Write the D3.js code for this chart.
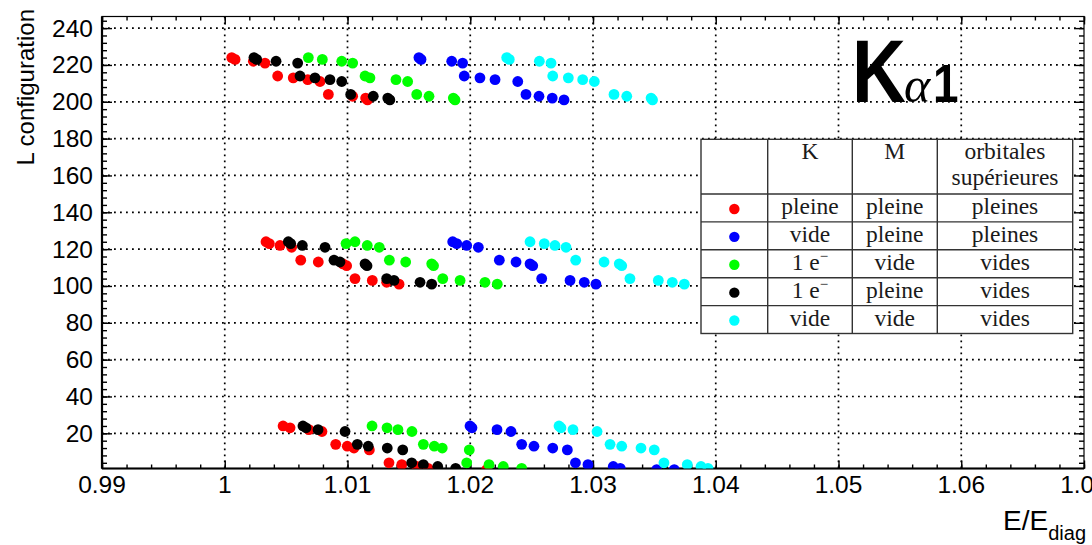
<!DOCTYPE html>
<html><head><meta charset="utf-8">
<script src="https://cdn.jsdelivr.net/npm/d3@7"></script>
<style>body{margin:0;background:#fff} svg{display:block}</style>
</head><body><svg id="c" width="1092" height="545"></svg>
<script>
// L configuration of every point (same order for all series)
const yLevels = [224,223,222,221,214,213,212,211,204,203,202,201,
                 124,123,122,121,114,113,112,111,104,103,102,101,
                 24,23,22,21,14,13,12,11,4,3,2,1];
const redX = [1.00057,1.00084,1.00233,1.00328,1.00431,1.00558,1.00676,1.00776,1.00844,1.01042,1.01148,1.01163,
              1.00336,1.00363,1.00450,1.00545,1.00619,1.00762,1.00963,1.00993,1.01061,1.01202,1.01319,1.01420,
              1.00475,1.00532,1.00686,1.00792,1.00904,1.00998,1.01053,1.01178,1.01338,1.01442,1.01564,1.01656];
const blackX = [1.00238,1.00260,1.00418,1.00594,1.00613,1.00735,1.00857,1.00953,1.01026,1.01210,1.01328,1.01345,
              1.00518,1.00537,1.00632,1.00817,1.00890,1.00939,1.01143,1.01159,1.01319,1.01379,1.01591,1.01686,
              1.00637,1.00662,1.00760,1.00980,1.01080,1.01169,1.01324,1.01450,1.01523,1.01618,1.01735,1.01881];
const greenX = [1.00681,1.00795,1.00953,1.01042,1.01143,1.01183,1.01395,1.01490,1.01564,1.01664,1.01862,1.01876,
              1.01061,1.00988,1.01161,1.01259,1.01341,1.01474,1.01686,1.01701,1.01776,1.01917,1.02120,1.02220,
              1.01200,1.01322,1.01411,1.01525,1.01618,1.01707,1.01772,1.01992,1.01971,1.02153,1.02269,1.02419];
const blueX = [1.01582,1.01599,1.01849,1.01938,1.01951,1.02079,1.02202,1.02387,1.02454,1.02560,1.02668,1.02764,
              1.01857,1.01890,1.01971,1.02066,1.02237,1.02373,1.02487,1.02509,1.02582,1.02813,1.02929,1.03024,
              1.01998,1.02014,1.02218,1.02332,1.02419,1.02519,1.02672,1.02791,1.02857,1.02959,1.03165,1.03222];
const cyanX = [1.02297,1.02318,1.02563,1.02658,1.02672,1.02799,1.02916,1.03011,1.03171,1.03275,1.03473,1.03485,
              1.02487,1.02603,1.02690,1.02780,1.02859,1.03090,1.03214,1.03234,1.03301,1.03532,1.03646,1.03744,
              1.02723,1.02739,1.02837,1.03033,1.03139,1.03234,1.03391,1.03499,1.03578,1.03768,1.03880,1.03937];
// points sitting on the lower frame edge (mostly hidden)
const edgeRedX = [1.02134], edgeBlueX = [1.03519,1.03662], edgeY = 0.3;

const xTicks = [0.99,1,1.01,1.02,1.03,1.04,1.05,1.06,1.07];
const xTickLabels = ["0.99","1","1.01","1.02","1.03","1.04","1.05","1.06","1.07"];
const yTicks = [20,40,60,80,100,120,140,160,180,200,220,240];

const legendHeader = [["", "K", "M", "orbitales|supérieures"]];
const legendRows = [["pleine","pleine","pleines"],["vide","pleine","pleines"],["1 e^","vide","vides"],["1 e^","pleine","vides"],["vide","vide","vides"]];
const seriesColors = ["#ff0000","#0000ff","#00ff00","#000000","#00ffff"];

const svg = d3.select("#c");
const L = 102, R = 1084, T = 16.5, B = 468.5;
const x = d3.scaleLinear().domain([0.99,1.07]).range([L,R]);
const y = d3.scaleLinear().domain([0.9,246.3]).range([B,T]);

svg.append("defs").append("clipPath").attr("id","fr").append("rect")
  .attr("x",L).attr("y",T).attr("width",R-L).attr("height",B-T);

// grid
const grid = svg.append("g").attr("stroke","#000").attr("stroke-width",1.7).attr("stroke-dasharray","1.8,4.2");
xTicks.slice(1,-1).forEach(v=>grid.append("line").attr("x1",x(v)).attr("x2",x(v)).attr("y1",T).attr("y2",B));
yTicks.forEach(v=>grid.append("line").attr("x1",L).attr("x2",R).attr("y1",y(v)).attr("y2",y(v)));

// axes
const minorX = d3.range(0.99,1.0701,0.002);
const minorY = d3.range(4,246,4);
function styleAxis(g){ g.select(".domain").remove(); g.selectAll("line").attr("stroke","#000").attr("stroke-width",1.4); }
svg.append("g").attr("transform",`translate(0,${B})`).call(d3.axisBottom(x).tickValues(minorX).tickSize(-4).tickFormat("")).call(styleAxis);
svg.append("g").attr("transform",`translate(0,${B})`).call(d3.axisBottom(x).tickValues(xTicks).tickSize(-8).tickFormat("")).call(styleAxis);
svg.append("g").attr("transform",`translate(0,${T})`).call(d3.axisTop(x).tickValues(minorX).tickSize(-4).tickFormat("")).call(styleAxis);
svg.append("g").attr("transform",`translate(0,${T})`).call(d3.axisTop(x).tickValues(xTicks).tickSize(-8).tickFormat("")).call(styleAxis);
svg.append("g").attr("transform",`translate(${L},0)`).call(d3.axisLeft(y).tickValues(minorY).tickSize(-5).tickFormat("")).call(styleAxis);
svg.append("g").attr("transform",`translate(${L},0)`).call(d3.axisLeft(y).tickValues(yTicks).tickSize(-10).tickFormat("")).call(styleAxis);
svg.append("g").attr("transform",`translate(${R},0)`).call(d3.axisRight(y).tickValues(minorY).tickSize(-5).tickFormat("")).call(styleAxis);
svg.append("g").attr("transform",`translate(${R},0)`).call(d3.axisRight(y).tickValues(yTicks).tickSize(-10).tickFormat("")).call(styleAxis);

// frame
svg.append("rect").attr("x",L).attr("y",T).attr("width",R-L).attr("height",B-T).attr("fill","none").attr("stroke","#000").attr("stroke-width",1.2);
svg.append("line").attr("x1",L).attr("x2",R).attr("y1",B).attr("y2",B).attr("stroke","#000").attr("stroke-width",2.2);
svg.append("line").attr("x1",L).attr("x2",L).attr("y1",T).attr("y2",B).attr("stroke","#000").attr("stroke-width",2.2);

// tick labels
const font = "'Liberation Sans', Arial, sans-serif";
svg.append("g").selectAll("text").data(xTicks).join("text")
  .attr("x",d=>x(d)).attr("y",492.5).attr("text-anchor","middle")
  .attr("font-family",font).attr("font-size",24.5).text((d,i)=>xTickLabels[i]);
svg.append("g").selectAll("text").data(yTicks).join("text")
  .attr("x",93).attr("y",d=>y(d)+8.5).attr("text-anchor","end")
  .attr("font-family",font).attr("font-size",24.5).text(d=>d);

// axis titles
svg.append("text").attr("transform","translate(34,9) rotate(-90)").attr("text-anchor","end")
  .attr("font-family",font).attr("font-size",24).text("L configuration");
const xt = svg.append("text").attr("x",1086).attr("y",530).attr("text-anchor","end").attr("font-family",font).attr("font-size",28);
xt.append("tspan").text("E/E");
xt.append("tspan").attr("dy",10).attr("font-size",20).text("diag");

// points
const series = [[redX,seriesColors[0]],[blueX,seriesColors[1]],[greenX,seriesColors[2]],[blackX,seriesColors[3]],[cyanX,seriesColors[4]]];
const pg = svg.append("g").attr("clip-path","url(#fr)");
edgeRedX.forEach(v=>pg.append("circle").attr("cx",x(v)).attr("cy",y(edgeY)).attr("r",5.4).attr("fill",seriesColors[0]));
edgeBlueX.forEach(v=>pg.append("circle").attr("cx",x(v)).attr("cy",y(edgeY)).attr("r",5.4).attr("fill",seriesColors[1]));
series.forEach(([xs,col])=>{
  pg.append("g").selectAll("circle").data(xs).join("circle")
    .attr("cx",d=>x(d)).attr("cy",(d,i)=>y(yLevels[i])).attr("r",5.4).attr("fill",col);
});

// title K alpha 1
const tg = svg.append("g");
tg.append("text").attr("transform","translate(857,101.7) scale(0.84,1)").attr("x",-6)
  .attr("font-family",font).attr("font-weight","bold").attr("font-size",89).text("K");
tg.append("text").attr("x",904).attr("y",101.7).attr("font-family","'Liberation Serif', serif")
  .attr("font-style","italic").attr("font-size",50).text("α");
tg.append("text").attr("transform","translate(933,101.7) scale(0.85,1)").attr("font-family",font).attr("font-weight","bold")
  .attr("font-size",54).text("1");

// legend table
const colX = [701,767.7,852.3,937.3,1072.7];
const rowY = [139.3,194,221.9,249.8,277.7,305.6,333.5];
const lg = svg.append("g");
lg.append("rect").attr("x",colX[0]).attr("y",rowY[0]).attr("width",colX[4]-colX[0]).attr("height",rowY[6]-rowY[0])
  .attr("fill","#fff").attr("stroke","#333").attr("stroke-width",1.4);
colX.slice(1,4).forEach(c=>lg.append("line").attr("x1",c).attr("x2",c).attr("y1",rowY[0]).attr("y2",rowY[6]).attr("stroke","#333").attr("stroke-width",1.4));
rowY.slice(1,6).forEach(r=>lg.append("line").attr("x1",colX[0]).attr("x2",colX[4]).attr("y1",r).attr("y2",r).attr("stroke","#333").attr("stroke-width",1.4));
const serif = "'Liberation Serif','Times New Roman',serif";
const cx = i=>(colX[i]+colX[i+1])/2;
legendHeader[0].forEach((t,i)=>{
  if(!t) return;
  t.split("|").forEach((line,k)=>lg.append("text").attr("x",cx(i)).attr("y",159.3+k*26).attr("text-anchor","middle")
    .attr("font-family",serif).attr("font-size",23.5).attr("fill","#1a1a1a").text(line));
});
legendRows.forEach((row,r)=>{
  const yc = (rowY[r+1]+rowY[r+2])/2;
  lg.append("circle").attr("cx",cx(0)).attr("cy",yc+1).attr("r",5.2).attr("fill",seriesColors[r]);
  row.forEach((t,i)=>{
    const tx = lg.append("text").attr("x",cx(i+1)).attr("y",yc+6.5).attr("text-anchor","middle")
      .attr("font-family",serif).attr("font-size",23.5).attr("fill","#1a1a1a");
    if(t.endsWith("^")){ tx.append("tspan").text(t.slice(0,-1)); tx.append("tspan").attr("dy",-9).attr("font-size",15).text("−"); }
    else tx.text(t);
  });
});
</script></body></html>
